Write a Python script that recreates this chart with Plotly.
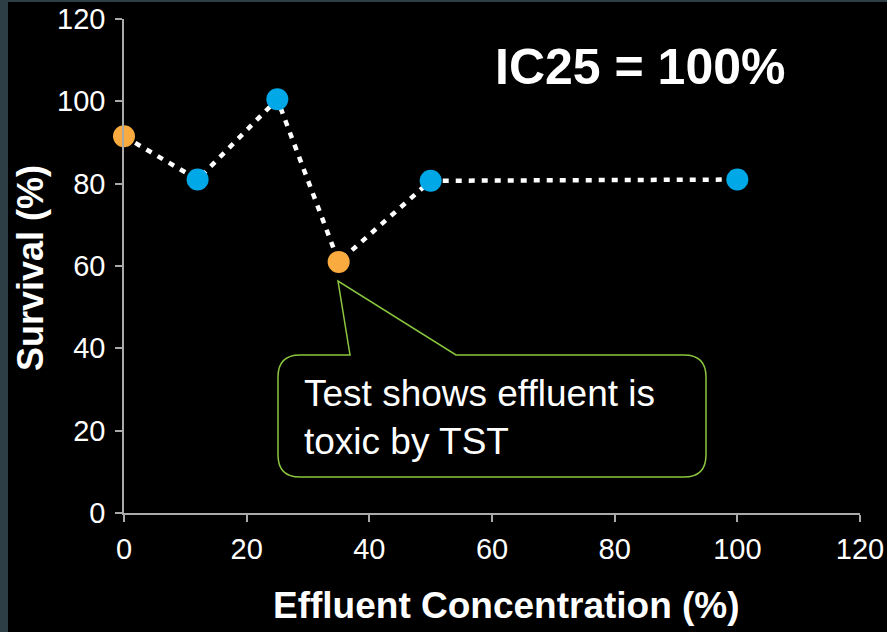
import plotly.graph_objects as go

concentration = [0, 12, 25, 35, 50, 100]
survival = [91.5, 81, 100.5, 61, 80.7, 81]
point_colors = ["#F9AB3F", "#00A8E8", "#00A8E8", "#F9AB3F", "#00A8E8", "#00A8E8"]
x_ticks = [0, 20, 40, 60, 80, 100, 120]
y_ticks = [0, 20, 40, 60, 80, 100, 120]

W, H = 887, 632
L, R, T, B = 124, 27, 19, 119
X0, X1 = 0, 120
Y0, Y1 = 0, 120
pw = W - L - R
ph = H - T - B
FONT = "Liberation Sans, Arial, Helvetica"


def dx(px):
    return X0 + (px - L) / pw * (X1 - X0)


def dy(py):
    return Y0 + (T + ph - py) / ph * (Y1 - Y0)


def px_(px):
    return (px - L) / pw


def py_(py):
    return (T + ph - py) / ph


fig = go.Figure()
fig.add_trace(go.Scatter(
    x=concentration, y=survival, mode="lines",
    line=dict(color="white", width=4.5, dash="6px,7px"),
    hoverinfo="skip", showlegend=False,
))
fig.add_trace(go.Scatter(
    x=concentration, y=survival, mode="markers",
    marker=dict(color=point_colors, size=22, line=dict(width=0)),
    cliponaxis=False, showlegend=False,
))

# callout box
bx0, bx1, by0, by1, r = 278, 706, 355, 477, 22
path = f"M {dx(bx0 + r)},{dy(by0)} L {dx(350)},{dy(by0)} L {dx(338)},{dy(281)} L {dx(456)},{dy(by0)} "
path += f"L {dx(bx1 - r)},{dy(by0)} Q {dx(bx1)},{dy(by0)} {dx(bx1)},{dy(by0 + r)} "
path += f"L {dx(bx1)},{dy(by1 - r)} Q {dx(bx1)},{dy(by1)} {dx(bx1 - r)},{dy(by1)} "
path += f"L {dx(bx0 + r)},{dy(by1)} Q {dx(bx0)},{dy(by1)} {dx(bx0)},{dy(by1 - r)} "
path += f"L {dx(bx0)},{dy(by0 + r)} Q {dx(bx0)},{dy(by0)} {dx(bx0 + r)},{dy(by0)} Z"

fig.add_shape(type="path", path=path, xref="x", yref="y",
              line=dict(color="#8CC63F", width=1.5), fillcolor="black", layer="above")

fig.add_annotation(x=dx(302), y=dy(417), xref="x", yref="y", xanchor="left", yanchor="middle",
                   text="Test shows effluent is<br>toxic by TST", showarrow=False, align="left",
                   font=dict(family=FONT, size=37, color="white"))

fig.add_annotation(x=dx(640), y=dy(67), xref="x", yref="y", xanchor="center", yanchor="middle",
                   text="<b>IC25 = 100%</b>", showarrow=False,
                   font=dict(family=FONT, size=50, color="white"))

# axis titles
fig.add_annotation(x=px_(506), y=py_(605), xref="paper", yref="paper", xanchor="center", yanchor="middle",
                   text="<b>Effluent Concentration (%)</b>", showarrow=False,
                   font=dict(family=FONT, size=37, color="white"))
fig.add_annotation(x=px_(30), y=py_(268), xref="paper", yref="paper", xanchor="center", yanchor="middle",
                   text="<b>Survival (%)</b>", showarrow=False, textangle=-90,
                   font=dict(family=FONT, size=36, color="white"))

# frame strips
fig.add_shape(type="rect", xref="paper", yref="paper", x0=px_(0), x1=px_(8),
              y0=py_(H), y1=py_(0), fillcolor="#2E3E45", line=dict(width=0), layer="above")
fig.add_shape(type="rect", xref="paper", yref="paper", x0=px_(0), x1=px_(W),
              y0=py_(2), y1=py_(0), fillcolor="#2E3E45", line=dict(width=0), layer="above")

axis_common = dict(
    showgrid=False, zeroline=False, showline=True, linecolor="#AAAAAA", linewidth=1.5,
    ticks="outside", ticklen=7, tickcolor="#AAAAAA", tickwidth=1.5, automargin=False,
    tickfont=dict(family=FONT, size=29, color="white"),
)
fig.update_layout(
    width=W, height=H,
    margin=dict(l=L, r=R, t=T, b=B, autoexpand=False),
    paper_bgcolor="black", plot_bgcolor="black",
    xaxis=dict(range=[X0, X1], tickvals=x_ticks, ticklabelstandoff=2, **axis_common),
    yaxis=dict(range=[Y0, Y1], tickvals=y_ticks, ticklabelstandoff=4, **axis_common),
)

fig.write_html("out.html", config={"displayModeBar": False},
               post_script="document.body.style.margin='0';document.body.style.background='black';")
